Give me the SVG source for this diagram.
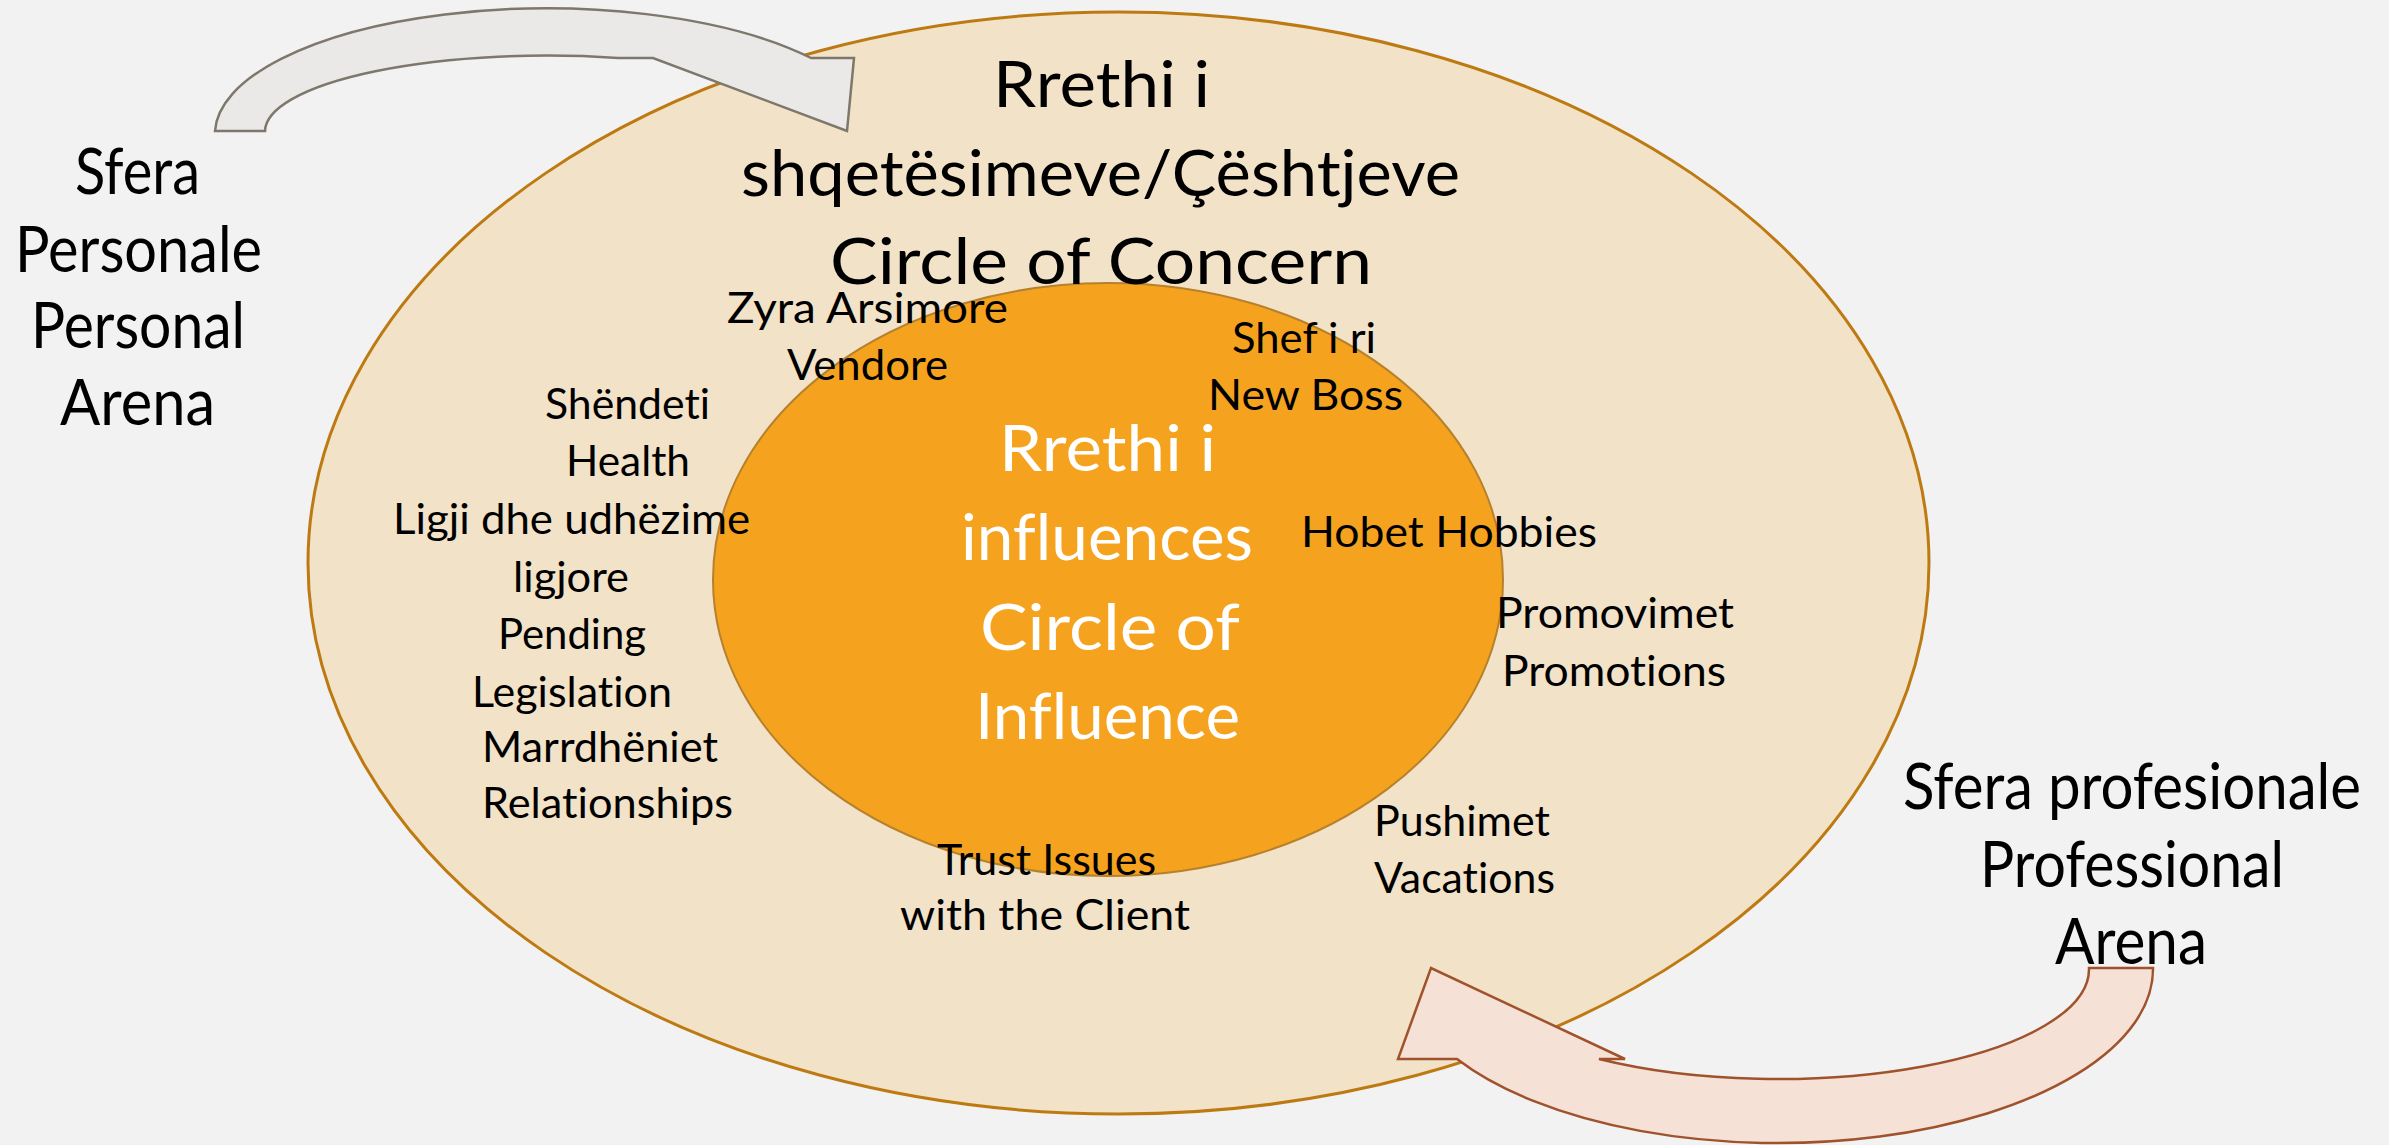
<svg xmlns="http://www.w3.org/2000/svg" width="2389" height="1145" viewBox="0 0 2389 1145">
<style>
text{font-family:Lato,"Liberation Sans",sans-serif;fill:#000;font-variant-ligatures:none;}
.big{font-size:64px;}
.sm{font-size:42px;}
.wh{fill:#fff;}
.outer{fill:#F2E2C7;stroke:#BE7A12;stroke-width:3;}
.inner{fill:#F5A31F;stroke:#B7812C;stroke-width:2;}
.garrow{fill:#EAE9E7;stroke:#7E776C;stroke-width:2.5;stroke-linejoin:miter;}
.parrow{fill:#F5E1D6;stroke:#A0522D;stroke-width:2.5;stroke-linejoin:miter;}
</style>
<rect x="0" y="0" width="2389" height="1145" fill="#F2F2F2"/>
<g id="circle-of-concern">
<ellipse class="outer" cx="1118.5" cy="563" rx="810.5" ry="551"/>
</g>
<g id="circle-of-influence">
<ellipse class="inner" cx="1108" cy="579.5" rx="395" ry="296.5"/>
</g>
<g id="connectors">
<path class="garrow" d="M 215 131 A 332 126 0 0 1 811 58 L 854 58 L 847 131 L 653 58 L 618 58 A 282 76 0 0 0 265 131 Z"/>
<path class="parrow" d="M 2089 968 L 2153 968 A 375 174 0 0 1 1457 1059 L 1398 1059 L 1431 968 L 1625 1059 L 1599 1059 A 311 110 0 0 0 2089 968 Z"/>
</g>
<g id="title-concern">
<text class="big" x="993" y="107" textLength="217" lengthAdjust="spacingAndGlyphs">Rrethi i</text>
<text class="big" x="741" y="196" textLength="719" lengthAdjust="spacingAndGlyphs">shqetësimeve/Çështjeve</text>
<text class="big" x="830" y="284" textLength="542" lengthAdjust="spacingAndGlyphs">Circle of Concern</text>
</g>
<g id="title-influence">
<text class="big wh" x="999" y="471" textLength="217" lengthAdjust="spacingAndGlyphs">Rrethi i</text>
<text class="big wh" x="961" y="560" textLength="292" lengthAdjust="spacingAndGlyphs">influences</text>
<text class="big wh" x="980" y="650" textLength="260" lengthAdjust="spacingAndGlyphs">Circle of</text>
<text class="big wh" x="975" y="739" textLength="265" lengthAdjust="spacingAndGlyphs">Influence</text>
</g>
<g id="personal-arena">
<text class="big" x="75" y="194" textLength="125" lengthAdjust="spacingAndGlyphs">Sfera</text>
<text class="big" x="15" y="272" textLength="247" lengthAdjust="spacingAndGlyphs">Personale</text>
<text class="big" x="31" y="348" textLength="214" lengthAdjust="spacingAndGlyphs">Personal</text>
<text class="big" x="60" y="425" textLength="155" lengthAdjust="spacingAndGlyphs">Arena</text>
</g>
<g id="professional-arena">
<text class="big" x="1903" y="809" textLength="458" lengthAdjust="spacingAndGlyphs">Sfera profesionale</text>
<text class="big" x="1980" y="887" textLength="304" lengthAdjust="spacingAndGlyphs">Professional</text>
<text class="big" x="2055" y="964" textLength="152" lengthAdjust="spacingAndGlyphs">Arena</text>
</g>
<g id="zyra">
<text class="sm" x="727" y="323" textLength="281" lengthAdjust="spacingAndGlyphs">Zyra Arsimore</text>
<text class="sm" x="787" y="380" textLength="161" lengthAdjust="spacingAndGlyphs">Vendore</text>
</g>
<g id="boss">
<text class="sm" x="1232" y="353" textLength="144" lengthAdjust="spacingAndGlyphs">Shef i ri</text>
<text class="sm" x="1208" y="410" textLength="195" lengthAdjust="spacingAndGlyphs">New Boss</text>
</g>
<g id="health">
<text class="sm" x="545" y="419" textLength="165" lengthAdjust="spacingAndGlyphs">Shëndeti</text>
<text class="sm" x="566" y="476" textLength="124" lengthAdjust="spacingAndGlyphs">Health</text>
</g>
<g id="legislation">
<text class="sm" x="393" y="534" textLength="357" lengthAdjust="spacingAndGlyphs">Ligji dhe udhëzime</text>
<text class="sm" x="513" y="592" textLength="116" lengthAdjust="spacingAndGlyphs">ligjore</text>
<text class="sm" x="498" y="649" textLength="148" lengthAdjust="spacingAndGlyphs">Pending</text>
<text class="sm" x="472" y="707" textLength="200" lengthAdjust="spacingAndGlyphs">Legislation</text>
</g>
<g id="relationships">
<text class="sm" x="482" y="762" textLength="236" lengthAdjust="spacingAndGlyphs">Marrdhëniet</text>
<text class="sm" x="482" y="818" textLength="251" lengthAdjust="spacingAndGlyphs">Relationships</text>
</g>
<g id="hobbies">
<text class="sm" x="1301" y="547" textLength="296" lengthAdjust="spacingAndGlyphs">Hobet Hobbies</text>
</g>
<g id="promotions">
<text class="sm" x="1496" y="628" textLength="238" lengthAdjust="spacingAndGlyphs">Promovimet</text>
<text class="sm" x="1502" y="686" textLength="224" lengthAdjust="spacingAndGlyphs">Promotions</text>
</g>
<g id="vacations">
<text class="sm" x="1374" y="836" textLength="176" lengthAdjust="spacingAndGlyphs">Pushimet</text>
<text class="sm" x="1374" y="893" textLength="181" lengthAdjust="spacingAndGlyphs">Vacations</text>
</g>
<g id="trust">
<text class="sm" x="937" y="875" textLength="219" lengthAdjust="spacingAndGlyphs">Trust Issues</text>
<text class="sm" x="900" y="930" textLength="290" lengthAdjust="spacingAndGlyphs">with the Client</text>
</g>
</svg>
